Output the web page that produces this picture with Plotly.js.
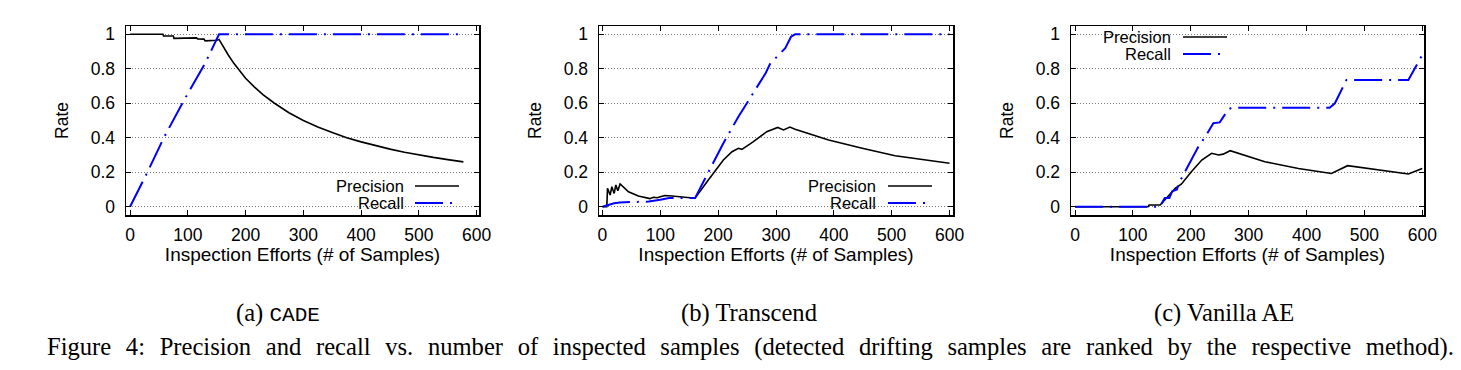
<!DOCTYPE html>
<html><head><meta charset="utf-8">
<script src="https://cdn.plot.ly/plotly-3.0.1.min.js"></script>
<style>html,body{margin:0;padding:0;background:#fff;}#chart{width:1461px;height:370px;}</style>
</head><body><div id="chart"></div>
<script>
// ---------- data ----------
const xTickVals = [0, 100, 200, 300, 400, 500, 600];
const yTickVals = [0, 0.2, 0.4, 0.6, 0.8, 1];
const yTickText = ['0', '0.2', '0.4', '0.6', '0.8', '1'];
const seriesNames = ['Precision', 'Recall'];
const xAxisTitle = 'Inspection Efforts (# of Samples)';
const yAxisTitle = 'Rate';
const subCaptions = ['(a) <span style="font-family:Liberation Mono;font-size:21px">CADE</span>', '(b) Transcend', '(c) Vanilla AE'];
const figureCaption = 'Figure 4: Precision and recall vs. number of inspected samples (detected drifting samples are ranked by the respective method).';

// (a) CADE
const cadePrecX = [0, 57, 58, 75, 76, 115, 117, 128, 130, 150, 154, 160, 170, 180, 190, 200, 215, 230, 250, 275, 300, 325, 350, 375, 400, 425, 450, 475, 500, 525, 550, 577];
const cadePrecY = [1, 1, 0.99, 0.99, 0.976, 0.979, 0.973, 0.972, 0.962, 0.965, 0.97, 0.935, 0.88, 0.83, 0.785, 0.745, 0.695, 0.65, 0.60, 0.545, 0.50, 0.462, 0.43, 0.40, 0.376, 0.354, 0.334, 0.316, 0.30, 0.286, 0.273, 0.26];
const cadeRecX = [0, 30, 58, 92, 130, 154, 577];
const cadeRecY = [0, 0.2, 0.397, 0.609, 0.832, 1, 1];

// (b) Transcend
const trPrecX = [0, 7.5, 8.7, 13.3, 16.2, 20.2, 23.1, 26.5, 30.5, 45, 62, 82, 88, 95, 100, 108, 120, 140, 160, 183, 209, 224, 235, 241, 261, 284, 303, 313, 324, 333, 391, 449, 506, 600];
const trPrecY = [0, 0, 0.107, 0.068, 0.116, 0.077, 0.126, 0.093, 0.132, 0.087, 0.062, 0.047, 0.055, 0.052, 0.058, 0.065, 0.062, 0.055, 0.049, 0.155, 0.271, 0.319, 0.339, 0.333, 0.377, 0.435, 0.46, 0.445, 0.462, 0.449, 0.387, 0.339, 0.296, 0.252];
const trRecX = [0, 20, 30, 50, 80, 100, 115, 130, 160, 209, 235, 282, 290, 316, 326, 333, 600];
const trRecY = [0, 0.02, 0.025, 0.028, 0.03, 0.04, 0.05, 0.05, 0.05, 0.368, 0.522, 0.774, 0.83, 0.919, 0.986, 1, 1];

// (c) Vanilla AE
const aePrecX = [0, 126, 128, 147, 155, 173, 184, 201, 219, 236, 248, 256, 268, 328, 386, 443, 471, 530, 576, 600];
const aePrecY = [0, 0, 0.01, 0.01, 0.039, 0.107, 0.132, 0.203, 0.271, 0.31, 0.30, 0.305, 0.325, 0.261, 0.222, 0.193, 0.238, 0.213, 0.19, 0.222];
const aeRecX = [0, 147, 150, 155, 163, 168, 176, 180, 187, 213, 225, 239, 250, 265, 271, 440, 449, 469, 576, 600];
const aeRecY = [0, 0, 0.02, 0.05, 0.05, 0.09, 0.10, 0.14, 0.184, 0.348, 0.406, 0.484, 0.489, 0.565, 0.574, 0.574, 0.60, 0.735, 0.735, 0.88];

const panels = [
  {px: cadePrecX, py: cadePrecY, rx: cadeRecX, ry: cadeRecY},
  {px: trPrecX, py: trPrecY, rx: trRecX, ry: trRecY},
  {px: aePrecX, py: aePrecY, rx: aeRecX, ry: aeRecY}
];

// ---------- layout geometry (pixels) ----------
const W = 1461, H = 370;
const boxes = [[126, 479], [599, 953], [1071, 1424]];
const xRanges = [[-7, 604], [-6, 606], [-7, 603]];
const plotTop = 26, plotBot = 215;
const fx = p => p / W, fy = p => 1 - p / H;
const sans = 'Liberation Sans, Arial, sans-serif';
const serif = 'Liberation Serif, Times New Roman, serif';
const BLUE = '#0000ff';
const RECALL_DASH = '28px,7px,2px,7px';

const traces = [];
const layout = {
  width: W, height: H,
  margin: {l: 0, r: 0, t: 0, b: 0},
  paper_bgcolor: '#fff', plot_bgcolor: '#fff',
  showlegend: false,
  font: {family: sans, size: 17, color: '#000'},
  annotations: [], shapes: []
};

panels.forEach((p, i) => {
  const n = i === 0 ? '' : String(i + 1);
  const xa = 'x' + n, ya = 'y' + n;
  traces.push({x: p.px, y: p.py, xaxis: xa, yaxis: ya, mode: 'lines', name: seriesNames[0],
    line: {color: '#000', width: 1.6}});
  traces.push({x: p.rx, y: p.ry, xaxis: xa, yaxis: ya, mode: 'lines', name: seriesNames[1],
    line: {color: BLUE, width: 2, dash: RECALL_DASH}});
  layout['xaxis' + n] = {
    domain: [fx(boxes[i][0]), fx(boxes[i][1])], anchor: ya, range: xRanges[i],
    tickvals: xTickVals, ticks: 'inside', ticklen: 5, tickwidth: 1, tickcolor: '#000',
    mirror: 'allticks', showline: true, linecolor: '#000', linewidth: 1.5,
    showgrid: false, zeroline: false, ticklabelstandoff: 3,
    tickfont: {family: sans, size: 17.5, color: '#000'},
    title: {text: xAxisTitle, font: {family: sans, size: 19, color: '#000'}, standoff: 4}
  };
  layout['yaxis' + n] = {
    domain: [fy(plotBot), fy(plotTop)], anchor: xa, range: [-0.048, 1.048],
    tickvals: yTickVals, ticktext: yTickText, ticks: 'inside', ticklen: 5, tickwidth: 1, tickcolor: '#000',
    mirror: 'allticks', showline: true, linecolor: '#000', linewidth: 1.5,
    showgrid: true, gridcolor: '#777', griddash: '1px,2px', gridwidth: 1, zeroline: false,
    ticklabelstandoff: 6,
    tickfont: {family: sans, size: 17.5, color: '#000'},
    title: {text: yAxisTitle, font: {family: sans, size: 17.5, color: '#000'}, standoff: 17}
  };
});

// legends (gnuplot style: text then sample)
const legends = [
  {mask: [313, 176, 471, 213], textR: 405, y1: 186, y2: 203, s0: 415, s1: 459},
  {mask: [787, 176, 943, 213], textR: 877, y1: 186, y2: 203, s0: 888, s1: 932},
  {mask: [1082, 28, 1237, 63], textR: 1172, y1: 37, y2: 54, s0: 1183, s1: 1227}
];
legends.forEach(L => {
  layout.shapes.push({type: 'rect', xref: 'paper', yref: 'paper', layer: 'between',
    x0: fx(L.mask[0]), x1: fx(L.mask[2]), y0: fy(L.mask[3]), y1: fy(L.mask[1]),
    fillcolor: '#fff', line: {width: 0}});
  layout.shapes.push({type: 'line', xref: 'paper', yref: 'paper', layer: 'above',
    x0: fx(L.s0), x1: fx(L.s1), y0: fy(L.y1), y1: fy(L.y1), line: {color: '#000', width: 1.6}});
  layout.shapes.push({type: 'line', xref: 'paper', yref: 'paper', layer: 'above',
    x0: fx(L.s0), x1: fx(L.s1), y0: fy(L.y2), y1: fy(L.y2), line: {color: BLUE, width: 2, dash: RECALL_DASH}});
  layout.annotations.push({xref: 'paper', yref: 'paper', x: fx(L.textR), y: fy(L.y1), xanchor: 'right', yanchor: 'middle',
    text: seriesNames[0], showarrow: false, borderpad: 0, font: {family: sans, size: 16.5, color: '#000'}});
  layout.annotations.push({xref: 'paper', yref: 'paper', x: fx(L.textR), y: fy(L.y2), xanchor: 'right', yanchor: 'middle',
    text: seriesNames[1], showarrow: false, borderpad: 0, font: {family: sans, size: 16.5, color: '#000'}});
});

// captions
const capCenters = [278, 749, 1224];
subCaptions.forEach((t, i) => {
  layout.annotations.push({xref: 'paper', yref: 'paper', x: fx(capCenters[i]), y: fy(313), xanchor: 'center', yanchor: 'middle',
    text: t, showarrow: false, font: {family: serif, size: 24.6, color: '#000'}});
});
layout.annotations.push({xref: 'paper', yref: 'paper', x: fx(750.5), y: fy(347), xanchor: 'center', yanchor: 'middle',
  text: '<span style="word-spacing:8.5px">' + figureCaption + '</span>', showarrow: false,
  font: {family: serif, size: 24.6, color: '#000'}});

Plotly.newPlot('chart', traces, layout, {staticPlot: true, displayModeBar: false});
</script>
</body></html>
